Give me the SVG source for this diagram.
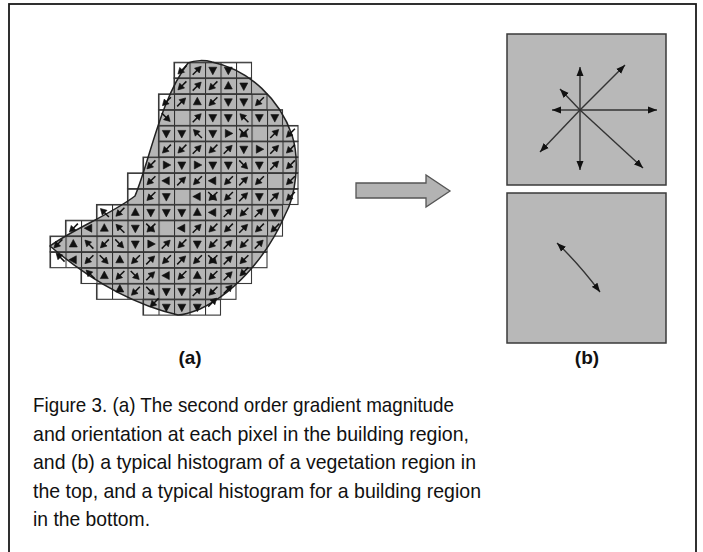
<svg xmlns="http://www.w3.org/2000/svg" xmlns:xlink="http://www.w3.org/1999/xlink" width="703" height="552" viewBox="0 0 703 552">
<style>
.frame{fill:#fff;stroke:#1a1a1a;stroke-width:1.8}
.row{fill:url(#grid);stroke:#3a3a3a;stroke-width:1.1}
.blob{fill:#b6b6b6;stroke:none}
.blobline{fill:none;stroke:#222;stroke-width:1.5}
.ink{fill:#111;stroke:#111}
.panel{fill:#b8b8b8;stroke:#3a3a3a;stroke-width:1.5}
.hl{stroke:#333;stroke-width:1.4;fill:none}
.big{fill:#b3b3b3;stroke:#555;stroke-width:1.3}
.lbl{font-family:"Liberation Sans",Arial,sans-serif;font-weight:bold;font-size:19px;fill:#111}
.cap{font-family:"Liberation Sans",Arial,sans-serif;font-size:21px;fill:#111}
</style>
<defs>
<pattern id="grid" patternUnits="userSpaceOnUse" x="50" y="62.3" width="15.5" height="15.8">
<path d="M0,0.5 H15.5 M0.5,0 V15.8" stroke="#2e2e2e" stroke-width="1.1" fill="none"/>
</pattern>
<path id="tD" class="ink" stroke-width="0.6" d="M-4,-3 L4,-3 L0,4.5 Z"/>
<g id="dA" class="ink">
<line x1="0" y1="-6.5" x2="0" y2="1" stroke-width="1.5"/>
<path d="M-3.4,-0.5 L3.4,-0.5 L0,5.5 Z" stroke-width="0.6"/>
</g>
<g id="dX">
<use xlink:href="#dA" transform="rotate(45)"/>
<use xlink:href="#dA" transform="rotate(-45)"/>
</g>
<marker id="ah" markerUnits="userSpaceOnUse" markerWidth="10" markerHeight="8" refX="9" refY="4" orient="auto-start-reverse">
<path d="M0,0.5 L9,4 L0,7.5 Z" fill="#111"/>
</marker>
</defs>

<rect class="frame" x="9" y="4" width="687" height="565"/>

<g id="node-a">
<path class="blob" d="M188,63 C195,60 205,60 212,62 C250,70 280,100 292,135 C300,160 296,195 285,215 C270,250 240,290 200,309 C190,313 183,315 178,315 C135,305 90,280 50,246 C75,228 110,215 135,196 C150,160 160,100 188,63 Z"/>
<g id="grid-rows">
<rect class="row" x="174" y="62.3" width="77.5" height="15.8"/>
<rect class="row" x="174" y="78.1" width="77.5" height="15.8"/>
<rect class="row" x="158.5" y="93.9" width="108.5" height="15.8"/>
<rect class="row" x="158.5" y="109.7" width="124" height="15.8"/>
<rect class="row" x="158.5" y="125.5" width="139.5" height="15.8"/>
<rect class="row" x="158.5" y="141.3" width="139.5" height="15.8"/>
<rect class="row" x="143" y="157.1" width="155" height="15.8"/>
<rect class="row" x="127.5" y="172.9" width="170.5" height="15.8"/>
<rect class="row" x="127.5" y="188.7" width="170.5" height="15.8"/>
<rect class="row" x="96.5" y="204.5" width="186" height="15.8"/>
<rect class="row" x="65.5" y="220.3" width="217" height="15.8"/>
<rect class="row" x="50" y="236.1" width="217" height="15.8"/>
<rect class="row" x="50" y="251.9" width="217" height="15.8"/>
<rect class="row" x="81" y="267.7" width="170.5" height="15.8"/>
<rect class="row" x="96.5" y="283.5" width="139.5" height="15.8"/>
<rect class="row" x="143" y="299.3" width="77.5" height="15.8"/>
</g>
<path class="blobline" d="M188,63 C195,60 205,60 212,62 C250,70 280,100 292,135 C300,160 296,195 285,215 C270,250 240,290 200,309 C190,313 183,315 178,315 C135,305 90,280 50,246 C75,228 110,215 135,196 C150,160 160,100 188,63 Z"/>
<g id="gradients">
<!-- row 0 -->
<use xlink:href="#dA" transform="translate(181.8,70.2) rotate(45)"/>
<use xlink:href="#dA" transform="translate(197.3,70.2) rotate(225)"/>
<use xlink:href="#tD" transform="translate(212.8,70.2)"/>
<use xlink:href="#tD" transform="translate(228.3,70.2)"/>
<!-- row 1 -->
<use xlink:href="#dA" transform="translate(181.8,86) rotate(45)"/>
<use xlink:href="#dA" transform="translate(197.3,86) rotate(225)"/>
<use xlink:href="#dA" transform="translate(212.8,86) rotate(45)"/>
<use xlink:href="#tD" transform="translate(228.3,86) rotate(180)"/>
<use xlink:href="#tD" transform="translate(243.8,86)"/>
<!-- row 2 -->
<use xlink:href="#dA" transform="translate(166.3,101.8) rotate(45)"/>
<use xlink:href="#dA" transform="translate(181.8,101.8) rotate(225)"/>
<use xlink:href="#tD" transform="translate(197.3,101.8) rotate(180)"/>
<use xlink:href="#dA" transform="translate(212.8,101.8) rotate(45)"/>
<use xlink:href="#tD" transform="translate(228.3,101.8)"/>
<use xlink:href="#tD" transform="translate(243.8,101.8)"/>
<use xlink:href="#dA" transform="translate(259.3,101.8) rotate(45)"/>
<!-- row 3 -->
<use xlink:href="#dA" transform="translate(166.3,117.6) rotate(-45)"/>
<use xlink:href="#dA" transform="translate(197.3,117.6) rotate(225)"/>
<use xlink:href="#tD" transform="translate(212.8,117.6)"/>
<use xlink:href="#tD" transform="translate(228.3,117.6)"/>
<use xlink:href="#dA" transform="translate(243.8,117.6) rotate(135)"/>
<use xlink:href="#tD" transform="translate(259.3,117.6)"/>
<use xlink:href="#tD" transform="translate(274.8,117.6)"/>
<!-- row 4 -->
<use xlink:href="#tD" transform="translate(166.3,133.4)"/>
<use xlink:href="#tD" transform="translate(181.8,133.4)"/>
<use xlink:href="#dA" transform="translate(197.3,133.4) rotate(135)"/>
<use xlink:href="#tD" transform="translate(212.8,133.4)"/>
<use xlink:href="#tD" transform="translate(228.3,133.4) rotate(-90)"/>
<use xlink:href="#dX" transform="translate(243.8,133.4)"/>
<use xlink:href="#dA" transform="translate(274.8,133.4) rotate(225)"/>
<use xlink:href="#dA" transform="translate(290.3,133.4) rotate(45)"/>
<!-- row 5 -->
<use xlink:href="#dA" transform="translate(166.3,149.2) rotate(45)"/>
<use xlink:href="#dA" transform="translate(181.8,149.2) rotate(45)"/>
<use xlink:href="#dA" transform="translate(197.3,149.2) rotate(225)"/>
<use xlink:href="#dA" transform="translate(212.8,149.2) rotate(45)"/>
<use xlink:href="#dA" transform="translate(228.3,149.2) rotate(225)"/>
<use xlink:href="#tD" transform="translate(243.8,149.2)"/>
<use xlink:href="#tD" transform="translate(259.3,149.2) rotate(-90)"/>
<use xlink:href="#dA" transform="translate(274.8,149.2) rotate(225)"/>
<use xlink:href="#dA" transform="translate(290.3,149.2) rotate(45)"/>
<!-- row 6 -->
<use xlink:href="#dA" transform="translate(150.8,165) rotate(45)"/>
<use xlink:href="#tD" transform="translate(166.3,165) rotate(-90)"/>
<use xlink:href="#tD" transform="translate(181.8,165)"/>
<use xlink:href="#tD" transform="translate(197.3,165) rotate(-90)"/>
<use xlink:href="#tD" transform="translate(212.8,165)"/>
<use xlink:href="#tD" transform="translate(228.3,165)"/>
<use xlink:href="#dA" transform="translate(243.8,165) rotate(-45)"/>
<use xlink:href="#tD" transform="translate(259.3,165)"/>
<use xlink:href="#dA" transform="translate(274.8,165) rotate(225)"/>
<use xlink:href="#dA" transform="translate(290.3,165) rotate(45)"/>
<!-- row 7 -->
<use xlink:href="#dA" transform="translate(150.8,180.8) rotate(45)"/>
<use xlink:href="#tD" transform="translate(166.3,180.8) rotate(90)"/>
<use xlink:href="#dA" transform="translate(181.8,180.8) rotate(225)"/>
<use xlink:href="#dA" transform="translate(197.3,180.8) rotate(45)"/>
<use xlink:href="#tD" transform="translate(212.8,180.8) rotate(90)"/>
<use xlink:href="#dA" transform="translate(228.3,180.8) rotate(45)"/>
<use xlink:href="#dA" transform="translate(243.8,180.8) rotate(225)"/>
<use xlink:href="#dA" transform="translate(259.3,180.8) rotate(45)"/>
<use xlink:href="#dA" transform="translate(290.3,180.8) rotate(45)"/>
<!-- row 8 -->
<use xlink:href="#dA" transform="translate(150.8,196.6) rotate(45)"/>
<use xlink:href="#tD" transform="translate(166.3,196.6)"/>
<use xlink:href="#tD" transform="translate(197.3,196.6) rotate(90)"/>
<use xlink:href="#dX" transform="translate(212.8,196.6)"/>
<use xlink:href="#dA" transform="translate(228.3,196.6) rotate(45)"/>
<use xlink:href="#dA" transform="translate(243.8,196.6) rotate(225)"/>
<use xlink:href="#tD" transform="translate(259.3,196.6)"/>
<use xlink:href="#dA" transform="translate(274.8,196.6) rotate(225)"/>
<use xlink:href="#dA" transform="translate(290.3,196.6) rotate(45)"/>
<!-- row 9 -->
<use xlink:href="#dA" transform="translate(104.3,212.4) rotate(135)"/>
<use xlink:href="#dA" transform="translate(119.8,212.4) rotate(45)"/>
<use xlink:href="#tD" transform="translate(135.3,212.4) rotate(180)"/>
<use xlink:href="#tD" transform="translate(150.8,212.4)"/>
<use xlink:href="#tD" transform="translate(166.3,212.4)"/>
<use xlink:href="#tD" transform="translate(181.8,212.4)"/>
<use xlink:href="#tD" transform="translate(197.3,212.4) rotate(180)"/>
<use xlink:href="#tD" transform="translate(212.8,212.4) rotate(90)"/>
<use xlink:href="#dA" transform="translate(228.3,212.4) rotate(225)"/>
<use xlink:href="#dA" transform="translate(243.8,212.4) rotate(45)"/>
<use xlink:href="#dA" transform="translate(259.3,212.4) rotate(225)"/>
<use xlink:href="#tD" transform="translate(274.8,212.4)"/>
<!-- row 10 -->
<use xlink:href="#dA" transform="translate(73.3,228.2) rotate(45)"/>
<use xlink:href="#tD" transform="translate(88.8,228.2) rotate(90)"/>
<use xlink:href="#tD" transform="translate(104.3,228.2) rotate(180)"/>
<use xlink:href="#dA" transform="translate(119.8,228.2) rotate(135)"/>
<use xlink:href="#tD" transform="translate(135.3,228.2)"/>
<use xlink:href="#dX" transform="translate(150.8,228.2)"/>
<use xlink:href="#tD" transform="translate(181.8,228.2) rotate(90)"/>
<use xlink:href="#dA" transform="translate(197.3,228.2) rotate(225)"/>
<use xlink:href="#dA" transform="translate(212.8,228.2) rotate(45)"/>
<use xlink:href="#dA" transform="translate(228.3,228.2) rotate(45)"/>
<use xlink:href="#dA" transform="translate(243.8,228.2) rotate(225)"/>
<use xlink:href="#dA" transform="translate(259.3,228.2) rotate(45)"/>
<use xlink:href="#dA" transform="translate(274.8,228.2) rotate(45)"/>
<!-- row 11 -->
<use xlink:href="#dA" transform="translate(57.8,244) rotate(45)"/>
<use xlink:href="#tD" transform="translate(73.3,244) rotate(180)"/>
<use xlink:href="#dA" transform="translate(88.8,244) rotate(135)"/>
<use xlink:href="#dA" transform="translate(104.3,244) rotate(45)"/>
<use xlink:href="#dA" transform="translate(119.8,244) rotate(-45)"/>
<use xlink:href="#tD" transform="translate(135.3,244)"/>
<use xlink:href="#tD" transform="translate(150.8,244) rotate(-90)"/>
<use xlink:href="#dA" transform="translate(166.3,244) rotate(225)"/>
<use xlink:href="#dA" transform="translate(181.8,244) rotate(45)"/>
<use xlink:href="#tD" transform="translate(197.3,244)"/>
<use xlink:href="#dA" transform="translate(212.8,244) rotate(45)"/>
<use xlink:href="#dA" transform="translate(228.3,244) rotate(225)"/>
<use xlink:href="#dA" transform="translate(243.8,244) rotate(45)"/>
<use xlink:href="#dA" transform="translate(259.3,244) rotate(225)"/>
<!-- row 12 -->
<use xlink:href="#dA" transform="translate(60,257) rotate(135)"/>
<use xlink:href="#tD" transform="translate(73.3,259.8) rotate(90)"/>
<use xlink:href="#dA" transform="translate(88.8,259.8) rotate(45)"/>
<use xlink:href="#dA" transform="translate(104.3,259.8) rotate(-45)"/>
<use xlink:href="#tD" transform="translate(119.8,259.8) rotate(180)"/>
<use xlink:href="#dA" transform="translate(135.3,259.8) rotate(45)"/>
<use xlink:href="#dA" transform="translate(150.8,259.8) rotate(225)"/>
<use xlink:href="#dA" transform="translate(166.3,259.8) rotate(45)"/>
<use xlink:href="#dA" transform="translate(181.8,259.8) rotate(225)"/>
<use xlink:href="#dA" transform="translate(197.3,259.8) rotate(45)"/>
<use xlink:href="#dX" transform="translate(212.8,259.8)"/>
<use xlink:href="#dA" transform="translate(228.3,259.8) rotate(225)"/>
<use xlink:href="#dA" transform="translate(243.8,259.8) rotate(45)"/>
<!-- row 13 -->
<use xlink:href="#dA" transform="translate(90,274) rotate(135)"/>
<use xlink:href="#tD" transform="translate(104.3,275.6) rotate(180)"/>
<use xlink:href="#dA" transform="translate(119.8,275.6) rotate(45)"/>
<use xlink:href="#dA" transform="translate(135.3,275.6) rotate(-45)"/>
<use xlink:href="#dA" transform="translate(150.8,275.6) rotate(225)"/>
<use xlink:href="#tD" transform="translate(166.3,275.6) rotate(90)"/>
<use xlink:href="#dA" transform="translate(181.8,275.6) rotate(45)"/>
<use xlink:href="#tD" transform="translate(197.3,275.6) rotate(180)"/>
<use xlink:href="#dA" transform="translate(212.8,275.6) rotate(45)"/>
<use xlink:href="#dA" transform="translate(228.3,275.6) rotate(225)"/>
<use xlink:href="#dA" transform="translate(243.8,272) rotate(45)"/>
<!-- row 14 -->
<use xlink:href="#tD" transform="translate(119.8,289) rotate(180)"/>
<use xlink:href="#dA" transform="translate(135.3,291.4) rotate(45)"/>
<use xlink:href="#dA" transform="translate(150.8,291.4) rotate(-45)"/>
<use xlink:href="#tD" transform="translate(166.3,291.4)"/>
<use xlink:href="#tD" transform="translate(181.8,291.4)"/>
<use xlink:href="#dA" transform="translate(197.3,291.4) rotate(225)"/>
<use xlink:href="#dA" transform="translate(212.8,291.4) rotate(45)"/>
<use xlink:href="#dA" transform="translate(228.3,289) rotate(225)"/>
<!-- row 15 -->
<use xlink:href="#dA" transform="translate(154,303) rotate(45)"/>
<use xlink:href="#tD" transform="translate(166.3,307.2)"/>
<use xlink:href="#tD" transform="translate(181.8,307.2)"/>
<use xlink:href="#tD" transform="translate(197.3,307.2)"/>
<use xlink:href="#dA" transform="translate(212.8,302) rotate(225)"/>
</g>
</g>

<g id="node-arrow">
<polygon class="big" points="356,183 426,183 426,175 450,191 426,207 426,198 356,198"/>
</g>

<g id="node-b-top">
<rect class="panel" x="507" y="34" width="159" height="151"/>
<g id="hist-top">
<line class="hl" x1="580" y1="110" x2="580" y2="67" marker-end="url(#ah)"/>
<line class="hl" x1="580" y1="110" x2="580" y2="170" marker-end="url(#ah)"/>
<line class="hl" x1="580" y1="110" x2="552" y2="110" marker-end="url(#ah)"/>
<line class="hl" x1="580" y1="110" x2="657" y2="110" marker-end="url(#ah)"/>
<line class="hl" x1="580" y1="110" x2="625" y2="65" marker-end="url(#ah)"/>
<line class="hl" x1="580" y1="110" x2="560" y2="89" marker-end="url(#ah)"/>
<line class="hl" x1="580" y1="110" x2="540" y2="152" marker-end="url(#ah)"/>
<line class="hl" x1="580" y1="110" x2="643" y2="168" marker-end="url(#ah)"/>
</g>
</g>

<g id="node-b-bottom">
<rect class="panel" x="507" y="193" width="159" height="150"/>
<path class="hl" d="M557,243 Q579,264 600,292" marker-start="url(#ah)" marker-end="url(#ah)"/>
</g>

<g id="labels">
<text class="lbl" x="190" y="364" text-anchor="middle">(a)</text>
<text class="lbl" x="587" y="364" text-anchor="middle">(b)</text>
</g>

<g id="caption">
<text class="cap" x="33" y="412" textLength="421" lengthAdjust="spacingAndGlyphs">Figure 3. (a) The second order gradient magnitude</text>
<text class="cap" x="33" y="441" textLength="436" lengthAdjust="spacingAndGlyphs">and orientation at each pixel in the building region,</text>
<text class="cap" x="33" y="469" textLength="443" lengthAdjust="spacingAndGlyphs">and (b) a typical histogram of a vegetation region in</text>
<text class="cap" x="33" y="498" textLength="448" lengthAdjust="spacingAndGlyphs">the top, and a typical histogram for a building region</text>
<text class="cap" x="33" y="526" textLength="117" lengthAdjust="spacingAndGlyphs">in the bottom.</text>
</g>
</svg>
